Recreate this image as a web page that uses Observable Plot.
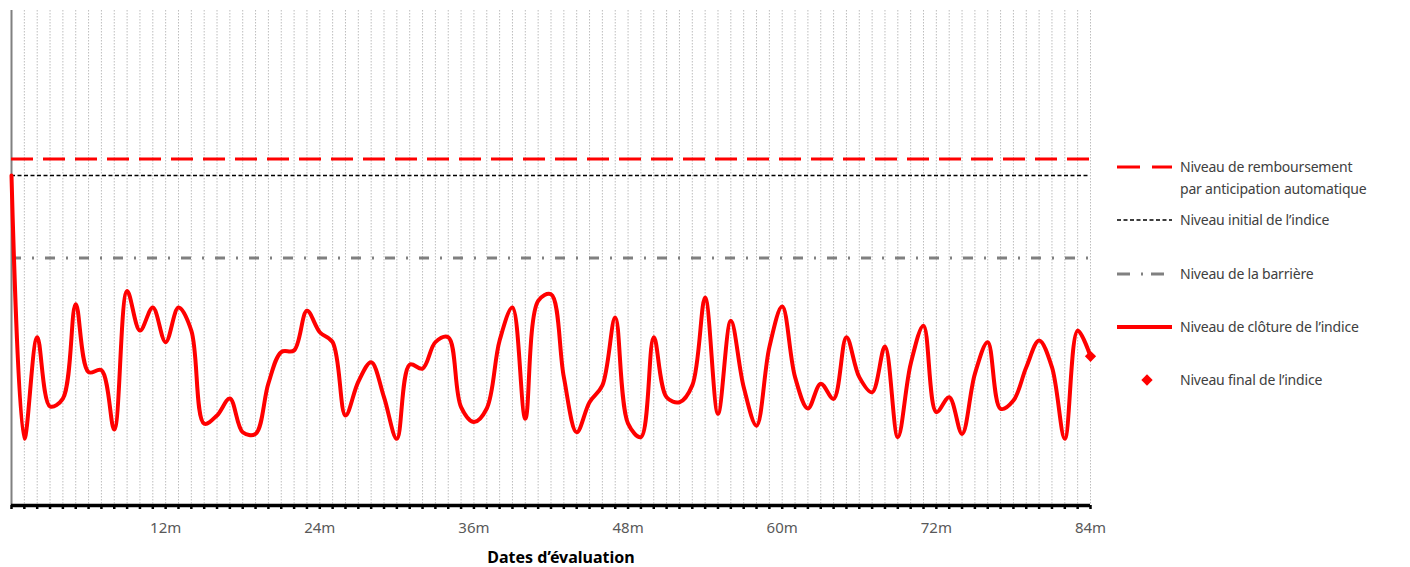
<!DOCTYPE html>
<html>
<head>
<meta charset="utf-8">
<script src="https://cdn.jsdelivr.net/npm/d3@7"></script>
<script src="https://cdn.jsdelivr.net/npm/@observablehq/plot@0.6"></script>
<style>
  html, body { margin: 0; padding: 0; background: #fff; }
  #wrap { position: relative; width: 1410px; height: 567px; font-family: "Noto Sans", "Open Sans", sans-serif; }
  #chart { position: absolute; left: 0; top: 0; }
  .lg { position: absolute; left: 1180px; font-size: 14px; color: #404040; line-height: 22px; white-space: nowrap; letter-spacing: -0.2px; }
  #swatches { position: absolute; left: 0; top: 0; }
</style>
</head>
<body>
<div id="wrap">
  <div id="chart"></div>
  <svg id="swatches" width="1410" height="567"></svg>
</div>
<script>
// Data
const months = d3.range(0, 85);
const closeLevels = [100, 20.2, 51, 30, 32.4, 61, 40.4, 41, 23, 65, 53, 60, 49.5, 60, 53, 24.8, 27.3, 32.4, 22.2, 21.7,
  37, 46.5, 47, 59, 52.5, 49.5, 27.3, 37.5, 43.4, 32.8, 20.2, 42.7, 41.5, 49.5, 51, 29.8, 25.3, 29.4, 50, 60,
  26.3, 62, 64, 38.9, 22.2, 31.3, 36.4, 57, 24.8, 20.7, 51, 32.8, 31.3, 36.4, 63, 27.8, 56, 35.9, 24.2, 48,
  60.3, 38.9, 29.4, 36.9, 32.3, 51, 38.9, 34.3, 48.2, 20.7, 42.9, 54.5, 28.3, 32.8, 21.7, 39.9, 49.5, 29.3, 31.8, 41.9,
  50, 41.9, 20.2, 53, 45.2];
const autocallLevel = 105;
const initialLevel = 100;
const barrierLevel = 75;
const finalMonth = 84;
const finalLevel = 45.2;
const labelMonths = [12, 24, 36, 48, 60, 72, 84];
const legendLabels = [
  "Niveau de remboursement\npar anticipation automatique",
  "Niveau initial de l\u2019indice",
  "Niveau de la barri\u00e8re",
  "Niveau de cl\u00f4ture de l\u2019indice",
  "Niveau final de l\u2019indice"
];
const xTitle = "Dates d\u2019\u00e9valuation";

const series = months.map((m, i) => ({month: m, level: closeLevels[i]}));

const chart = Plot.plot({
  width: 1115,
  height: 567,
  marginTop: 10,
  marginBottom: 62,
  marginLeft: 11,
  marginRight: 25,
  style: {fontFamily: "'Noto Sans', 'Open Sans', sans-serif", background: "transparent", overflow: "visible"},
  x: {domain: [0, 84]},
  y: {domain: [0, 150], axis: null},
  marks: [
    Plot.ruleX(d3.range(1, 85), {stroke: "#bdbdbd", strokeWidth: 1, strokeDasharray: "1.5,1.5"}),
    Plot.ruleX([0], {stroke: "#808080", strokeWidth: 2}),
    Plot.ruleY([autocallLevel], {stroke: "#ff0000", strokeWidth: 3, strokeDasharray: "22,10"}),
    Plot.ruleY([initialLevel], {stroke: "#000", strokeWidth: 1.6, strokeDasharray: "4,2.5"}),
    Plot.ruleY([barrierLevel], {stroke: "#808080", strokeWidth: 3, strokeDasharray: "10,11,2,11"}),
    Plot.line(series, {x: "month", y: "level", stroke: "#ff0000", strokeWidth: 4, curve: "catmull-rom"}),
    Plot.dot([{month: finalMonth, level: finalLevel}], {x: "month", y: "level", symbol: "square", rotate: 45, fill: "#ff0000", r: 4.5}),
    Plot.ruleY([0], {stroke: "#000", strokeWidth: 3.5}),
    Plot.axisX(months, {tickSize: 4, strokeWidth: 2.5, stroke: "#000", tickFormat: () => "", label: null}),
    Plot.axisX(labelMonths, {tickSize: 0, tickPadding: 17, fontSize: 15, fill: "#595959", tickFormat: d => d + "m", label: null}),
    Plot.text([xTitle], {frameAnchor: "bottom", dy: 57, dx: 10, fontSize: 16, fontWeight: "bold", fill: "#000"})
  ]
});
document.getElementById("chart").appendChild(chart);

// Legend
const wrap = document.getElementById("wrap");
const legendY = [167, 220, 274, 327, 380];
legendLabels.forEach((t, i) => {
  const lines = t.split("\n");
  const d = document.createElement("div");
  d.className = "lg";
  d.style.top = (legendY[i] - 11) + "px";
  d.innerHTML = lines.join("<br>");
  wrap.appendChild(d);
});
const sw = d3.select("#swatches");
sw.append("line").attr("x1", 1117).attr("x2", 1172).attr("y1", 167).attr("y2", 167)
  .attr("stroke", "#ff0000").attr("stroke-width", 3).attr("stroke-dasharray", "23,12");
sw.append("line").attr("x1", 1117).attr("x2", 1172).attr("y1", 220).attr("y2", 220)
  .attr("stroke", "#000").attr("stroke-width", 1.6).attr("stroke-dasharray", "4,2.5");
sw.append("line").attr("x1", 1117).attr("x2", 1164).attr("y1", 274).attr("y2", 274)
  .attr("stroke", "#808080").attr("stroke-width", 3).attr("stroke-dasharray", "13,11,2,8");
sw.append("line").attr("x1", 1117).attr("x2", 1172).attr("y1", 327).attr("y2", 327)
  .attr("stroke", "#ff0000").attr("stroke-width", 4);
sw.append("rect").attr("x", -4).attr("y", -4).attr("width", 8).attr("height", 8)
  .attr("transform", "translate(1147,380) rotate(45)").attr("fill", "#ff0000");
</script>
</body>
</html>
